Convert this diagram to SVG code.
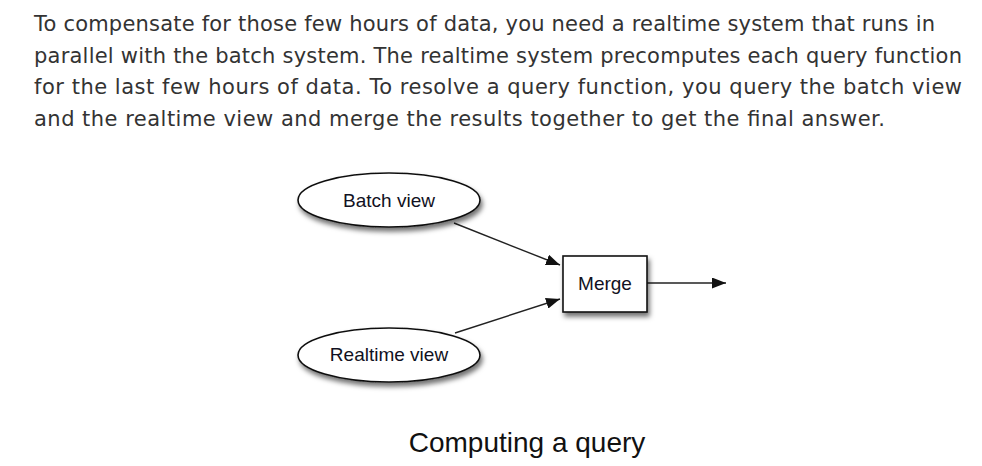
<svg xmlns="http://www.w3.org/2000/svg" width="982" height="466" viewBox="0 0 982 466">
<style>
.para{font-family:"DejaVu Sans",Verdana,sans-serif;font-size:21px;fill:#333333}
.lbl{font-family:"Liberation Sans",Arial,Helvetica,sans-serif;font-size:19px;fill:#111122;text-anchor:middle}
.cap{font-family:"Liberation Sans",Arial,Helvetica,sans-serif;font-size:28px;fill:#111111;text-anchor:middle}
.shape{fill:#ffffff;stroke:#111111;stroke-width:1.6;filter:url(#sh)}
.edge{stroke:#222222;stroke-width:1.4;fill:none}
</style>
<defs>
<filter id="sh" x="-20%" y="-30%" width="150%" height="180%">
<feDropShadow dx="2" dy="4" stdDeviation="2.5" flood-color="#000000" flood-opacity="0.55"/>
</filter>
<marker id="ah" viewBox="0 0 14 11" refX="14" refY="5.5" markerWidth="14" markerHeight="11" markerUnits="userSpaceOnUse" orient="auto">
<path d="M0,0 L14,5.5 L0,11 Z" fill="#111111"/>
</marker>
</defs>
<rect width="982" height="466" fill="#ffffff"/>
<g id="paragraph">
<text class="para" x="34" y="31" textLength="901" lengthAdjust="spacing">To compensate for those few hours of data, you need a realtime system that runs in</text>
<text class="para" x="34" y="62.5" textLength="928" lengthAdjust="spacing">parallel with the batch system. The realtime system precomputes each query function</text>
<text class="para" x="34" y="94" textLength="928" lengthAdjust="spacing">for the last few hours of data. To resolve a query function, you query the batch view</text>
<text class="para" x="34" y="125.5" textLength="851" lengthAdjust="spacing">and the realtime view and merge the results together to get the final answer.</text>
</g>
<g id="connectors">
<line class="edge" x1="454" y1="223" x2="560" y2="265" marker-end="url(#ah)"/>
<line class="edge" x1="455" y1="333" x2="560" y2="299" marker-end="url(#ah)"/>
<line class="edge" x1="647" y1="283" x2="726" y2="283" stroke="#555555" marker-end="url(#ah)"/>
</g>
<g id="batch-view">
<ellipse class="shape" cx="389" cy="200" rx="91" ry="27"/>
<text class="lbl" x="389" y="206.5">Batch view</text>
</g>
<g id="realtime-view">
<ellipse class="shape" cx="389" cy="355" rx="91" ry="27"/>
<text class="lbl" x="389" y="361">Realtime view</text>
</g>
<g id="merge">
<rect class="shape" x="563" y="256" width="84" height="56"/>
<text class="lbl" x="605" y="289.5">Merge</text>
</g>
<g id="caption">
<text class="cap" x="527" y="452">Computing a query</text>
</g>
</svg>
